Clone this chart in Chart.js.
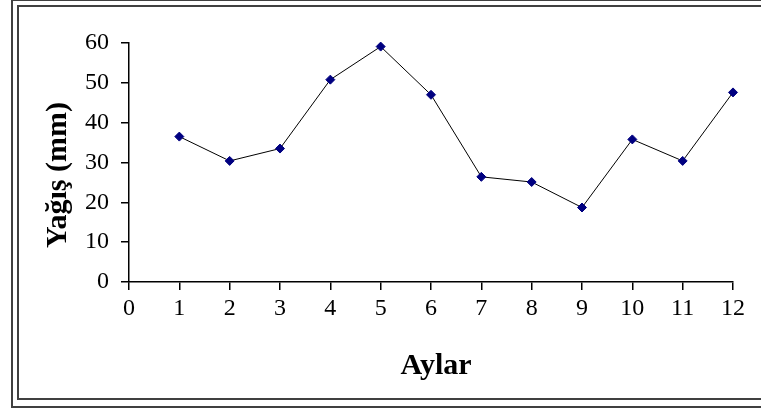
<!DOCTYPE html>
<html>
<head>
<meta charset="utf-8">
<script src="https://cdn.jsdelivr.net/npm/chart.js@4/dist/chart.umd.min.js"></script>
<style>
  html, body { margin: 0; padding: 0; background: #fff; }
  body { width: 761px; height: 410px; position: relative; overflow: hidden; }
  .frame { position: absolute; box-sizing: border-box; border: 2px solid #404040; border-right: none; }
  #outer { left: 11px; top: -1px; width: 800px; height: 409px; }
  #inner { left: 17px; top: 5px; width: 800px; height: 395px; }
  #wrap { position: absolute; left: 0; top: 0; width: 761px; height: 410px; }
</style>
</head>
<body>
<div class="frame" id="outer"></div>
<div class="frame" id="inner"></div>
<div id="wrap"><canvas id="c" width="761" height="410"></canvas></div>
<script>
// Monthly precipitation (mm)
const months = [1, 2, 3, 4, 5, 6, 7, 8, 9, 10, 11, 12];
const rainfall = [36.5, 30.4, 33.5, 50.8, 59.1, 47.0, 26.4, 25.1, 18.7, 35.8, 30.4, 47.6];
const xTitle = 'Aylar';
const yTitle = 'Yağış (mm)';

const serif = "'Liberation Serif', 'Times New Roman', serif";

// Axis titles, placed in the margins around the plot
const axisTitlePlugin = {
  id: 'axisTitles',
  afterDraw(chart) {
    const ctx = chart.ctx;
    ctx.save();
    ctx.font = 'bold 30px ' + serif;
    ctx.fillStyle = '#000';
    ctx.textAlign = 'center';
    ctx.textBaseline = 'middle';
    ctx.fillText(xTitle, 436, 366);
    ctx.translate(58, 175);
    ctx.rotate(-Math.PI / 2);
    ctx.fillText(yTitle, 0, 0);
    ctx.restore();
  }
};

new Chart(document.getElementById('c'), {
  type: 'line',
  data: {
    datasets: [{
      data: months.map((m, i) => ({ x: m, y: rainfall[i] })),
      borderColor: '#000',
      borderWidth: 1,
      pointStyle: 'rectRot',
      pointRadius: 4.5,
      pointBackgroundColor: '#000080',
      pointBorderColor: '#000080',
      pointBorderWidth: 1,
      tension: 0,
      fill: false,
      clip: false
    }]
  },
  options: {
    responsive: false,
    animation: false,
    layout: { padding: { top: 43, right: 28, left: 0, bottom: 0 } },
    plugins: { legend: { display: false }, tooltip: { enabled: false } },
    scales: {
      x: {
        type: 'linear',
        min: 0,
        max: 12,
        afterFit(s) { s.height = 128; },
        border: { display: true, color: '#000', width: 1.5 },
        grid: { drawOnChartArea: false, drawTicks: true, tickLength: 8, color: '#000', lineWidth: 1.5 },
        ticks: { stepSize: 1, autoSkip: false, maxRotation: 0, padding: 4, color: '#000', font: { family: serif, size: 24 } }
      },
      y: {
        min: 0,
        max: 60,
        afterFit(s) { s.width = 129; },
        border: { display: true, color: '#000', width: 1.5 },
        grid: { drawOnChartArea: false, drawTicks: true, tickLength: 8, color: '#000', lineWidth: 1.5 },
        ticks: { stepSize: 10, padding: 12, color: '#000', font: { family: serif, size: 24 } }
      }
    }
  },
  plugins: [axisTitlePlugin]
});
</script>
</body>
</html>
